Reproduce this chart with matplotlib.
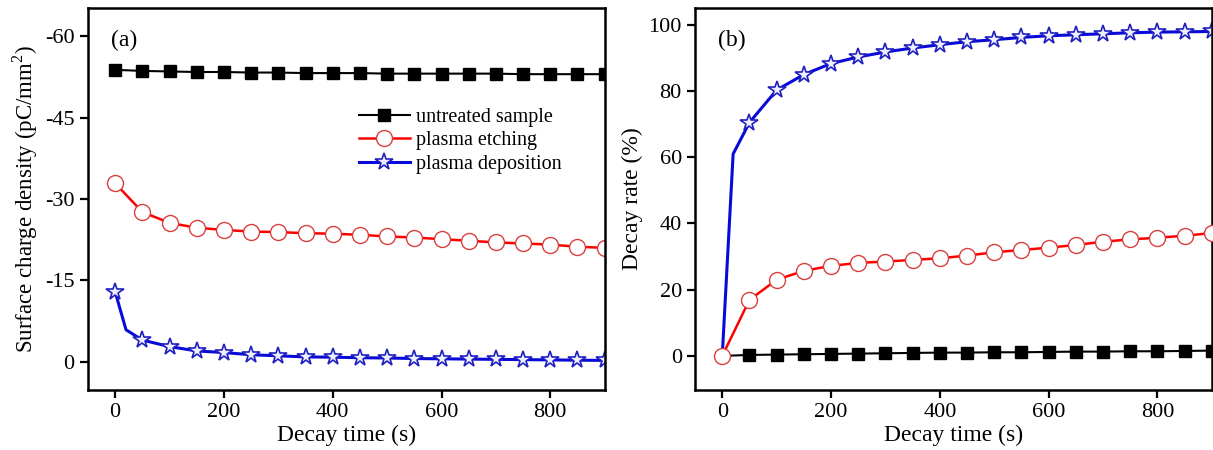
import matplotlib
matplotlib.use("Agg")
import matplotlib.pyplot as plt

plt.rcParams["font.family"] = ["Liberation Serif", "DejaVu Serif"]
plt.rcParams["mathtext.fontset"] = "custom"
plt.rcParams["mathtext.rm"] = "Liberation Serif"
plt.rcParams["axes.unicode_minus"] = False

# ---- data ----
time_s = [0, 50, 100, 150, 200, 250, 300, 350, 400, 450,
          500, 550, 600, 650, 700, 750, 800, 850, 900]

# (a) surface charge density, pC/mm^2
untreated_q = [-53.8, -53.6, -53.5, -53.4, -53.4, -53.3, -53.3, -53.2, -53.2, -53.2,
               -53.1, -53.1, -53.1, -53.1, -53.1, -53.0, -53.0, -53.0, -53.0]
etching_q = [-32.9, -27.6, -25.6, -24.7, -24.3, -24.0, -23.9, -23.7, -23.6, -23.4,
             -23.1, -22.9, -22.6, -22.3, -22.0, -21.8, -21.6, -21.2, -21.0]
# deposition has an extra unmarked point at 20 s
deposition_t = [0, 20, 50, 100, 150, 200, 250, 300, 350, 400, 450,
                500, 550, 600, 650, 700, 750, 800, 850, 900]
deposition_q = [-12.9, -5.9, -4.0, -2.8, -2.0, -1.7, -1.3, -1.1, -0.9, -0.85, -0.75,
                -0.7, -0.6, -0.55, -0.5, -0.45, -0.4, -0.35, -0.3, -0.25]

# (b) decay rate, %
untreated_r = [0.0, 0.3, 0.4, 0.5, 0.6, 0.7, 0.8, 0.9, 1.0, 1.0,
               1.1, 1.1, 1.2, 1.3, 1.3, 1.4, 1.4, 1.5, 1.6]
etching_r = [0.0, 16.9, 23.0, 25.7, 27.2, 28.1, 28.5, 29.0, 29.5, 30.3,
             31.3, 32.0, 32.7, 33.5, 34.5, 35.2, 35.7, 36.3, 37.1]
deposition_r = [0.0, 61.0, 70.5, 80.3, 85.0, 88.3, 90.3, 91.8, 93.0, 94.0, 94.9,
                95.5, 96.2, 96.7, 97.0, 97.3, 97.6, 97.8, 97.9, 98.0]

labels = ["untreated sample", "plasma etching", "plasma deposition"]

skip_extra = [0] + list(range(2, len(deposition_t)))


def style_axes(ax):
    for s in ax.spines.values():
        s.set_linewidth(1.8)
    ax.tick_params(direction="out", length=6, width=1.6, labelsize=16,
                   top=False, right=False)
    ax.set_xlim(-50, 900)
    ax.set_xticks([0, 200, 400, 600, 800])
    ax.set_xlabel("Decay time (s)", fontsize=17, labelpad=2)


def main():
    fig = plt.figure(figsize=(12.13, 4.5), dpi=100)
    ax1 = fig.add_axes([0.0725, 0.1333, 0.426, 0.849])
    ax2 = fig.add_axes([0.573, 0.1333, 0.426, 0.849])

    sq = dict(marker="s", color="black", markersize=9, lw=1.5)
    ci = dict(marker="o", color="red", markersize=11.5, lw=1.8,
              markerfacecolor="white", markeredgecolor="#d84040", markeredgewidth=1.0)
    st = dict(marker="*", color="#0a0ad8", markersize=13, lw=2.2,
              markerfacecolor="#eef0ff", markeredgecolor="#2020c0", markeredgewidth=1.2)

    # ---- (a) ----
    ax1.plot(time_s, untreated_q, label=labels[0], **sq)
    ax1.plot(time_s, etching_q, label=labels[1], **ci)
    ax1.plot(deposition_t, deposition_q, label=labels[2], markevery=skip_extra, **st)
    ax1.set_ylim(5.2, -65.2)
    ax1.set_yticks([-60, -45, -30, -15, 0])
    ax1.set_ylabel("Surface charge density (pC/mm$^2$)", fontsize=16.5, labelpad=4)
    style_axes(ax1)
    ax1.text(0.045, 0.915, "(a)", transform=ax1.transAxes, fontsize=17, va="center")
    ax1.legend(loc="upper left", bbox_to_anchor=(0.49, 0.785), frameon=False,
               fontsize=14.5, handlelength=2.5, handletextpad=0.3, labelspacing=0.2)

    # ---- (b) ----
    ax2.plot(time_s, untreated_r, markevery=slice(1, None), **sq)
    ax2.plot(deposition_t, deposition_r, markevery=skip_extra[1:], **st)
    ax2.plot(time_s, etching_r, zorder=3, **ci)
    ax2.set_ylim(-10.3, 105.1)
    ax2.set_yticks([0, 20, 40, 60, 80, 100])
    ax2.set_ylabel("Decay rate (%)", fontsize=17, labelpad=4)
    style_axes(ax2)
    ax2.text(0.045, 0.915, "(b)", transform=ax2.transAxes, fontsize=17, va="center")

    fig.savefig("out.png", dpi=100)
    plt.close(fig)


if __name__ == "__main__":
    main()
